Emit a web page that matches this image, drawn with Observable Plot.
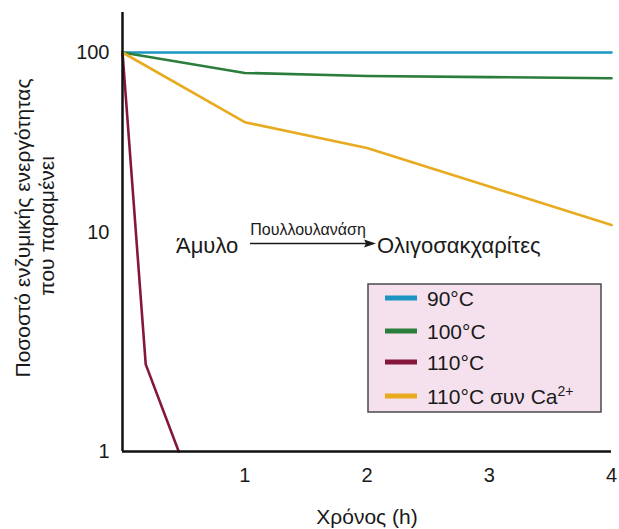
<!DOCTYPE html>
<html>
<head>
<meta charset="utf-8">
<script src="https://cdn.jsdelivr.net/npm/d3@7"></script>
<script src="https://cdn.jsdelivr.net/npm/@observablehq/plot@0.6"></script>
<style>
  body { margin: 0; background: #ffffff; }
  #chart { width: 619px; height: 529px; }
</style>
</head>
<body>
<div id="chart"></div>
<script>
// ---- data ----
const seriesNames = ["90°C", "100°C", "110°C", "110°C συν Ca2+"];
const seriesColors = ["#1b95c2", "#2b7d3b", "#85183a", "#e8ab1f"];

const hours90 = [0, 1, 2, 3, 4];
const activity90 = [100, 100, 100, 100, 100];

const hours100 = [0, 1, 2, 3, 4];
const activity100 = [100, 77, 74, 73, 72];

const hours110 = [0, 0.19, 0.46];
const activity110 = [100, 2.5, 1];

const hours110Ca = [0, 1, 2, 3, 4];
const activity110Ca = [100, 41, 29.5, 18, 11];

const xTicks = [1, 2, 3, 4];
const yTicks = [1, 10, 100];

const xLabel = "Χρόνος (h)";
const yLabelLines = ["Ποσοστό ενζυμικής ενεργότητας", "που παραμένει"];
const reactionLeft = "Άμυλο";
const reactionRight = "Ολιγοσακχαρίτες";
const enzymeName = "Πουλλουλανάση";

// ---- build table ----
function rows(name, hs, vs) { return hs.map((h, i) => ({series: name, t: h, v: vs[i]})); }
const data = [
  ...rows(seriesNames[0], hours90, activity90),
  ...rows(seriesNames[1], hours100, activity100),
  ...rows(seriesNames[2], hours110, activity110),
  ...rows(seriesNames[3], hours110Ca, activity110Ca)
];

const FONT = "'Liberation Sans', Arial, Helvetica, sans-serif";
const W = 619, H = 529;
const padL = 122, padR = 611, padT = 12, padB = 451;

const plot = Plot.plot({
  width: W,
  height: H,
  marginLeft: padL,
  marginRight: W - padR,
  marginTop: padT,
  marginBottom: H - padB,
  style: {fontFamily: FONT, fontSize: "20px", background: "#ffffff", color: "#1a1a1a", overflow: "visible"},
  x: {domain: [0, 4], range: [padL, padR], ticks: xTicks, tickFormat: d => String(d), tickSize: 0, tickPadding: 16, label: null},
  y: {type: "log", domain: [1, 10, 100], range: [padB, 232, 52], ticks: yTicks, tickFormat: d => String(d), tickSize: 0, tickPadding: 13, label: null},
  color: {domain: seriesNames, range: seriesColors},
  marks: [
    Plot.line(data, {x: "t", y: "v", z: "series", stroke: "series", strokeWidth: 2.6, strokeLinejoin: "round"}),
    Plot.ruleX([0], {stroke: "#111", strokeWidth: 2.5}),
    Plot.ruleY([1], {stroke: "#111", strokeWidth: 2.5})
  ]
});

document.getElementById("chart").appendChild(plot);

const svg = d3.select(plot);
const colorScale = plot.scale("color");
const colorOf = d3.scaleOrdinal(colorScale.domain, colorScale.range);

// y-axis title (two lines, rotated)
const yl = svg.append("g").attr("font-family", FONT).attr("font-size", 21).attr("fill", "#1a1a1a").attr("text-anchor", "middle");
yl.append("text").attr("transform", "translate(30,228) rotate(-90)").text(yLabelLines[0]);
yl.append("text").attr("transform", "translate(54,226) rotate(-90)").text(yLabelLines[1]);

// x-axis title
svg.append("text").attr("x", 367).attr("y", 524).attr("text-anchor", "middle")
  .attr("font-family", FONT).attr("font-size", 21).attr("fill", "#1a1a1a").text(xLabel);

// reaction annotation
const ann = svg.append("g").attr("font-family", FONT).attr("fill", "#1a1a1a").attr("text-anchor", "start");
ann.append("text").attr("x", 176).attr("y", 253).attr("font-size", 22).text(reactionLeft);
ann.append("text").attr("x", 377).attr("y", 253).attr("font-size", 22).text(reactionRight);
ann.append("text").attr("x", 308).attr("y", 235).attr("font-size", 16).attr("text-anchor", "middle").text(enzymeName);
ann.append("line").attr("x1", 250).attr("x2", 368).attr("y1", 243.5).attr("y2", 243.5).attr("stroke", "#1a1a1a").attr("stroke-width", 1.5);
ann.append("path").attr("d", "M376,243.5 L364,239.5 L366,243.5 L364,247.5 Z").attr("fill", "#1a1a1a");

// legend box
const lg = svg.append("g").attr("font-family", FONT).attr("text-anchor", "start");
lg.append("rect").attr("x", 368).attr("y", 284).attr("width", 233).attr("height", 128)
  .attr("fill", "#f5e0ee").attr("stroke", "#4a4a4a").attr("stroke-width", 1.5);
const rowY = [298, 331, 362, 396];
colorScale.domain.forEach((name, i) => {
  const y = rowY[i];
  lg.append("line").attr("x1", 385).attr("x2", 417).attr("y1", y).attr("y2", y)
    .attr("stroke", colorOf(name)).attr("stroke-width", 5);
  const t = lg.append("text").attr("x", 427).attr("y", y + 7.5).attr("font-size", 21).attr("fill", "#1a1a1a");
  const m = name.match(/^(.*Ca)(2\+)$/);
  if (m) {
    t.append("tspan").text(m[1]);
    t.append("tspan").attr("dy", -8).attr("font-size", 14).text(m[2]);
  } else {
    t.text(name);
  }
});
</script>
</body>
</html>
